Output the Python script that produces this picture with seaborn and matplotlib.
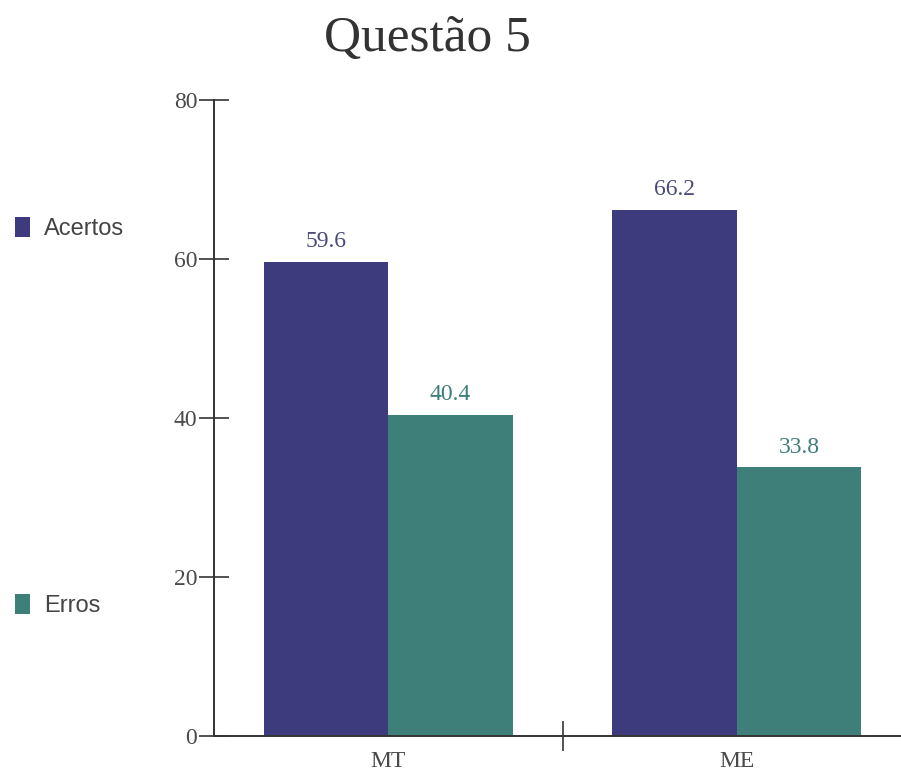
import matplotlib
matplotlib.use("Agg")
import matplotlib.pyplot as plt
import seaborn as sns
import pandas as pd
from matplotlib.ticker import FixedLocator

# Data
categories = ["MT", "ME"]
series = ["Acertos", "Erros"]
acertos = [59.6, 66.2]
erros = [40.4, 33.8]
y_ticks = [0, 20, 40, 60, 80]

colors = {"Acertos": "#3d3b7d", "Erros": "#3f7f7a"}
label_colors = ["#4b4a78", "#3f7f7a"]

df = pd.DataFrame({
    "categoria": categories * 2,
    "serie": ["Acertos"] * len(categories) + ["Erros"] * len(categories),
    "valor": acertos + erros,
})

sns.set_style("white")
W, H = 901, 777
fig = plt.figure(figsize=(W / 100, H / 100), dpi=100)
ax = fig.add_axes([214 / W, (H - 736) / H, (W - 214) / W, (736 - 100) / H])

sns.barplot(data=df, x="categoria", y="valor", hue="serie", order=categories,
            hue_order=series, palette=colors, width=0.715, gap=0,
            saturation=1, linewidth=0, legend=False, ax=ax)

for cont, col in zip(ax.containers, label_colors):
    ax.bar_label(cont, fmt="%.1f", padding=7, color=col, fontsize=17,
                 family="Liberation Serif")

ax.set_ylim(0, 80)
ax.set_xlim(-0.5, 1.471)
ax.set_xlabel("")
ax.set_ylabel("")

line_col = "#333333"
for s in ["top", "right"]:
    ax.spines[s].set_visible(False)
for s in ["left", "bottom"]:
    ax.spines[s].set_color(line_col)
    ax.spines[s].set_linewidth(1.4)

ax.set_yticks(y_ticks)
ax.tick_params(axis="y", left=True, direction="inout", length=21, width=1.2,
               color=line_col, pad=1.5, labelsize=17, labelcolor="#4a4a4a")
ax.tick_params(axis="x", which="major", bottom=True, length=0, pad=11,
               labelsize=17, labelcolor="#4a4a4a")
ax.xaxis.set_minor_locator(FixedLocator([0.5]))
ax.tick_params(axis="x", which="minor", bottom=True, direction="inout",
               length=21, width=1.2, color=line_col)
for lab in ax.get_xticklabels() + ax.get_yticklabels():
    lab.set_family("Liberation Serif")

fig.text(427 / W, 1 - 51 / H, "Questão 5", ha="center", va="baseline",
         fontsize=37, family="Liberation Serif", color="#333333")

fig.legend([c.patches[0] for c in ax.containers], series,
           loc="upper left", bbox_to_anchor=(15 / W, 1 - 217 / H),
           frameon=False, labelspacing=15.0,
           handlelength=0.64, handleheight=0.9, handletextpad=0.6,
           borderpad=0, borderaxespad=0,
           prop={"family": "Liberation Sans", "size": 17},
           labelcolor="#444444")

fig.savefig("out.png", dpi=100)
